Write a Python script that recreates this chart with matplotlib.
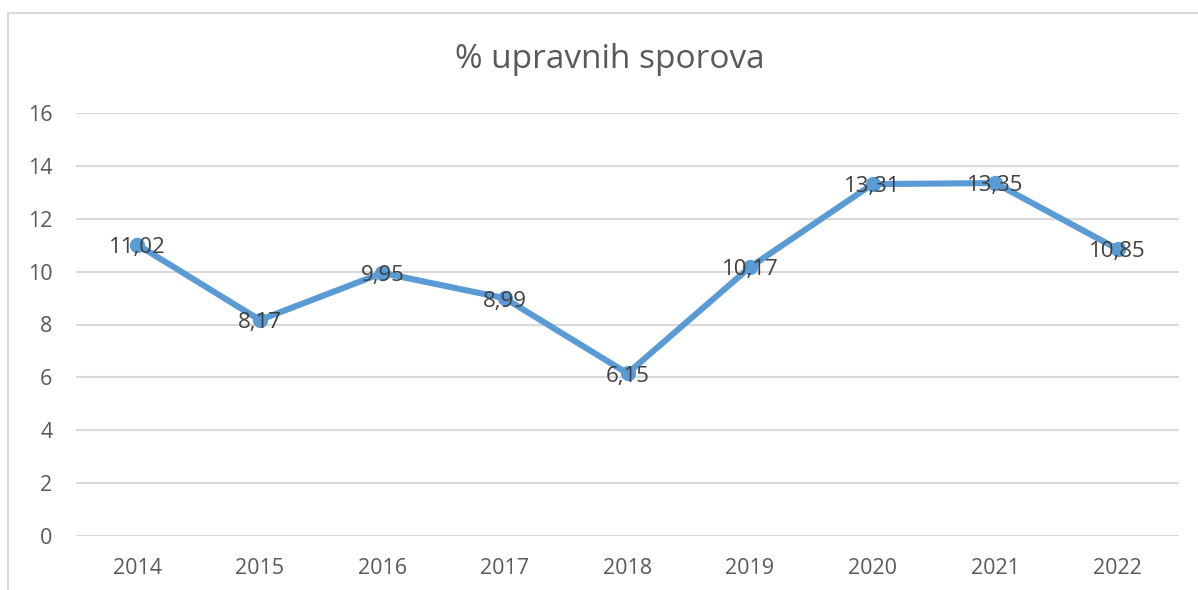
import matplotlib.pyplot as plt
from matplotlib.patches import Rectangle

# Data
years = ['2014', '2015', '2016', '2017', '2018', '2019', '2020', '2021', '2022']
values = [11.02, 8.17, 9.95, 8.99, 6.15, 10.17, 13.31, 13.35, 10.85]
yticks = [0, 2, 4, 6, 8, 10, 12, 14, 16]

text_color = '#595959'
line_color = '#5B9BD5'
grid_color = '#D9D9D9'

plt.rcParams['font.family'] = ['Open Sans', 'DejaVu Sans']

fig = plt.figure(figsize=(11.98, 5.90), dpi=100)
ax = fig.add_axes([76 / 1198, 1 - 536 / 590, 1103 / 1198, 423 / 590])

x = list(range(len(years)))
ax.plot(x, values, color=line_color, linewidth=4.4, marker='o',
        markersize=10, solid_capstyle='round', zorder=3)

for xi, v in zip(x, values):
    ax.annotate(f'{v:.2f}'.replace('.', ','), (xi, v), xytext=(0, -2),
                textcoords='offset points', ha='center', va='center',
                fontsize=16, color='#404040', zorder=4)

ax.set_xlim(-0.5, len(years) - 0.5)
ax.set_ylim(0, 16)
ax.set_yticks(yticks)
ax.set_xticks(x)
ax.set_xticklabels(years)
ax.tick_params(axis='both', length=0, labelsize=15.5, labelcolor=text_color)
ax.tick_params(axis='y', pad=17)
ax.tick_params(axis='x', pad=16)
ax.grid(axis='y', color=grid_color, linewidth=1.5)
ax.set_axisbelow(True)
for s in ax.spines.values():
    s.set_visible(False)

fig.text(610 / 1198, 1 - 60 / 590, '% upravnih sporova', ha='center', va='center',
         fontsize=24, color=text_color)

# chart frame (cropped on right and bottom)
fig.patches.append(Rectangle((8 / 1198, -0.1), 1.2, 1 - 13 / 590 + 0.1,
                             transform=fig.transFigure, fill=False,
                             edgecolor=grid_color, linewidth=1.5))

fig.savefig('out.png', dpi=100)
